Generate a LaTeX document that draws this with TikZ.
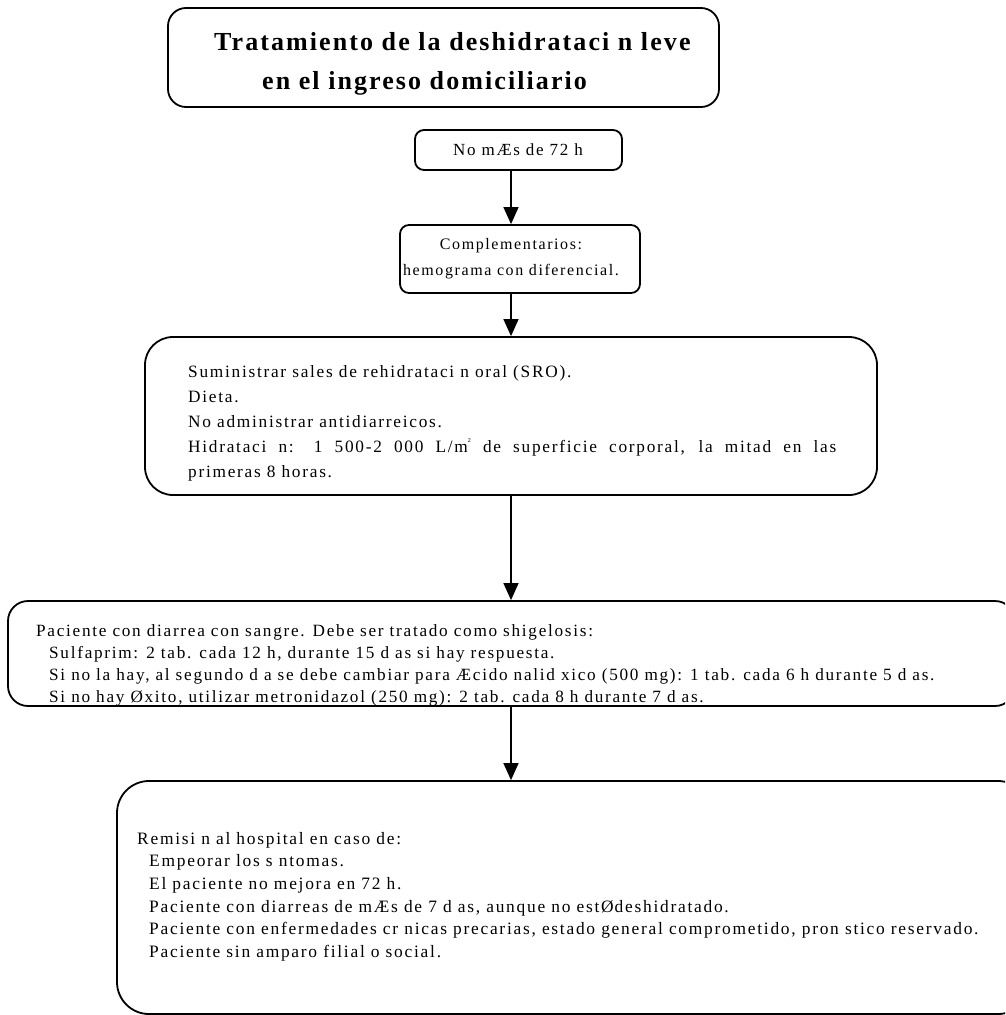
\documentclass[tikz,border=0pt]{standalone}
\usepackage{fontspec}
\setmainfont{Liberation Serif}
\newfontfamily\bodyfont[LetterSpace=10]{Liberation Serif}
\newfontfamily\titlefont[LetterSpace=8]{Liberation Serif}
\usetikzlibrary{arrows.meta,calc}
\newcommand{\sq}{\raisebox{0.55em}{\fontsize{6}{6}\selectfont 2}}
\begin{document}
\begin{tikzpicture}[x=1pt,y=-1pt,
  box/.style={draw, line width=1.8pt, inner sep=0pt},
  arr/.style={line width=1.5pt, -{Triangle[length=17pt,width=15pt]}},
  txt/.style={font=\bodyfont\fontsize{17.3}{25}\selectfont, inner sep=0pt, align=left},
  ttl/.style={font=\titlefont\bfseries\fontsize{26}{38}\selectfont, inner sep=0pt}]
\useasboundingbox (0,0) rectangle (1005,1015);
\clip (0,0) rectangle (1005,1015);
\coordinate (ax) at (511,0);
% boxes
\node[box, rounded corners=18pt, minimum width=551pt, minimum height=99pt] (b1) at (443.5,57.5) {};
\node[box, rounded corners=9pt, minimum width=207pt, minimum height=40pt] (b2) at (518.5,150) {};
\node[box, rounded corners=9pt, minimum width=240pt, minimum height=68pt] (b3) at (520,259) {};
\node[box, rounded corners=28pt, minimum width=732pt, minimum height=158pt] (b4) at (511,416) {};
\node[box, rounded corners=20pt, minimum width=1007pt, minimum height=105pt] (b5) at (511.5,653.5) {};
\node[box, rounded corners=32pt, minimum width=913pt, minimum height=233pt] (b6) at (573.5,897.5) {};
% texts
\node[ttl, anchor=base west] (t1a) at (214,50) {Tratamiento de la deshidrataci~n leve};
\node[ttl, anchor=base west] (t1b) at (262,89) {en el ingreso domiciliario};
\node[txt, font=\bodyfont\fontsize{17}{25}\selectfont, anchor=base] (t2) at (518,155) {No mÆs de 72 h};
\node[txt, font=\bodyfont\fontsize{16}{26}\selectfont, align=center, anchor=base] (t3) at (511,275) {Complementarios:\\hemograma con diferencial.};
\node[txt, anchor=north west] (t4) at (188,365) {Suministrar sales de rehidrataci~n oral (SRO).\\
Dieta.\\
No administrar antidiarreicos.\\
\makebox[648pt][s]{Hidrataci~n: 1 500-2 000 L/m\sq{} de superficie corporal, la mitad en las}\\
primeras 8 horas.};
\node[txt, font=\bodyfont\fontsize{17.2}{22}\selectfont, anchor=north west] (t5) at (36,624) {Paciente con diarrea con sangre. Debe ser tratado como shigelosis:\\
\hspace*{13pt}Sulfaprim: 2 tab. cada 12 h, durante 15 d~as si hay respuesta.\\
\hspace*{13pt}Si no la hay, al segundo d~a se debe cambiar para Æcido nalid~xico (500 mg): 1 tab. cada 6 h durante 5 d~as.\\
\hspace*{13pt}Si no hay Øxito, utilizar metronidazol (250 mg): 2 tab. cada 8 h durante 7 d~as.};
\node[txt, font=\bodyfont\fontsize{17.4}{22.6}\selectfont, anchor=north west] (t6) at (137,832) {Remisi~n al hospital en caso de:\\
\hspace*{12pt}Empeorar los s~ntomas.\\
\hspace*{12pt}El paciente no mejora en 72 h.\\
\hspace*{12pt}Paciente con diarreas de mÆs de 7 d~as, aunque no estØ\hspace{1pt}deshidratado.\\
\hspace*{12pt}Paciente con enfermedades cr~nicas precarias, estado general comprometido, pron~stico reservado.\\
\hspace*{12pt}Paciente sin amparo filial o social.};
% connectors
\draw[arr] (b2.south -| ax) -- (b3.north -| ax);
\draw[arr] (b3.south -| ax) -- (b4.north -| ax);
\draw[arr] (b4.south -| ax) -- (b5.north -| ax);
\draw[arr] (b5.south -| ax) -- (b6.north -| ax);
\end{tikzpicture}
\end{document}
